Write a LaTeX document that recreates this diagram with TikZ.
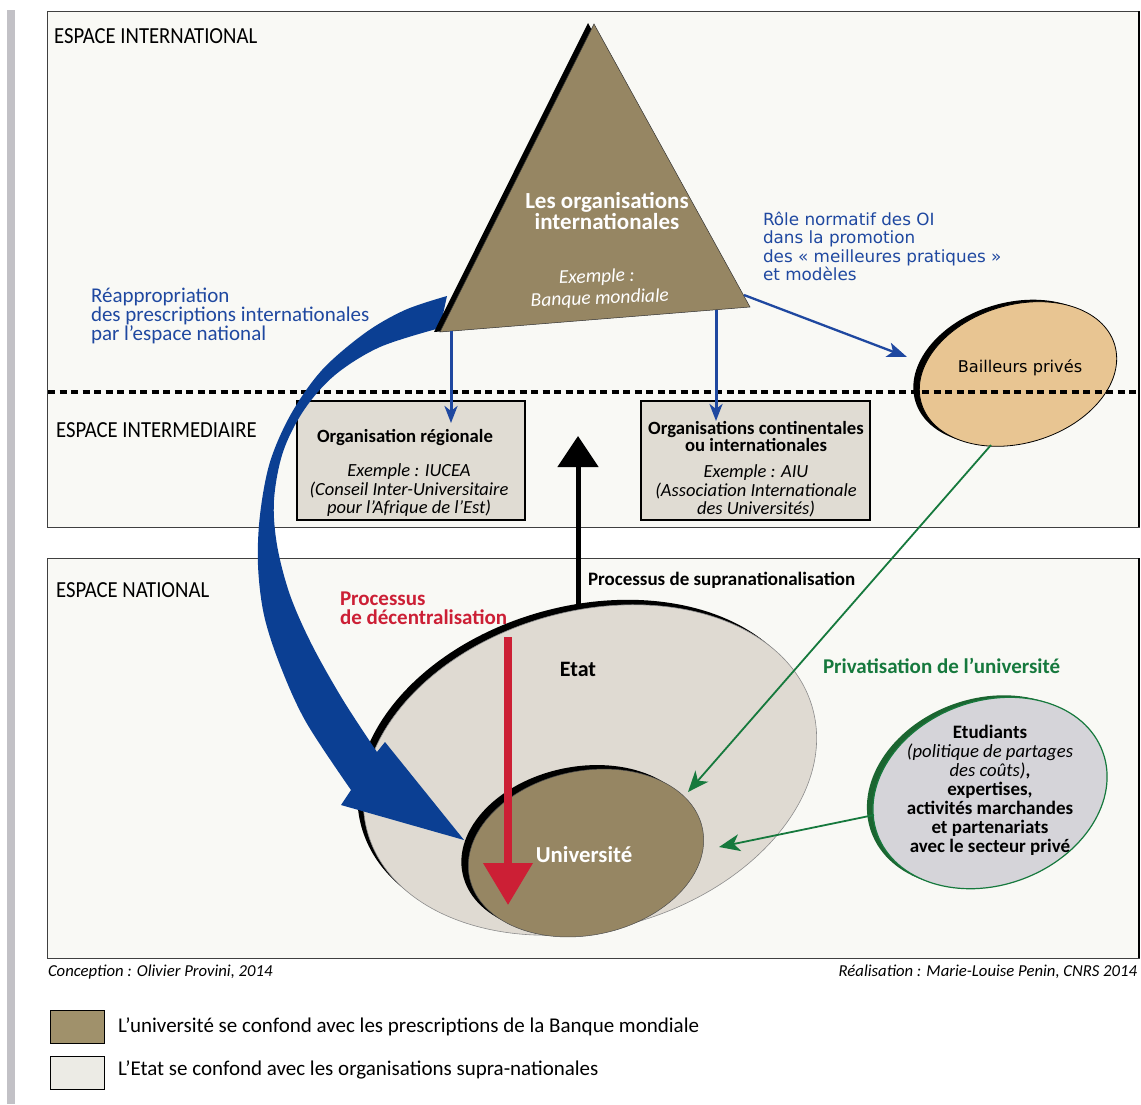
\documentclass[tikz,border=0pt]{standalone}
\usepackage{fontspec}
\setmainfont{Carlito}
\newfontfamily\dvsans{DejaVu Sans}
\usetikzlibrary{arrows.meta}
\definecolor{cOlive}{HTML}{968663}
\definecolor{cEtat}{HTML}{DFDAD2}
\definecolor{cBox}{HTML}{E0DCD3}
\definecolor{cBail}{HTML}{E8C592}
\definecolor{cEtu}{HTML}{D5D4D9}
\definecolor{cBg}{HTML}{F9F9F5}
\definecolor{cBar}{HTML}{C2C1C6}
\definecolor{cBlue}{HTML}{0B3F93}
\definecolor{cBlueT}{HTML}{1F48A0}
\definecolor{cRed}{HTML}{CC1F35}
\definecolor{cGreen}{HTML}{16793D}
\definecolor{cDkGreen}{HTML}{1B6530}
\definecolor{cLeg1}{HTML}{A0916B}
\definecolor{cLeg2}{HTML}{ECEBE5}
\begin{document}
\begin{tikzpicture}[x=1pt,y=-1pt,
  bl/.style={inner sep=0pt, outer sep=0pt, anchor=base west},
  bc/.style={inner sep=0pt, outer sep=0pt, anchor=base},
  br/.style={inner sep=0pt, outer sep=0pt, anchor=base east},
  spacelbl/.style={inner sep=0pt, anchor=west, font=\fontsize{23}{23}\selectfont},
  bluetxt/.style={bl, text=cBlueT, font=\fontsize{21}{21}\selectfont},
  normtxt/.style={bl, text=cBlueT, font=\dvsans\fontsize{16.8}{16.8}\selectfont},
  boldtxt/.style={font=\bfseries\fontsize{18.7}{18.7}\selectfont},
  itxt/.style={font=\itshape\fontsize{18.5}{18.5}\selectfont},
  etutxt/.style={font=\bfseries\fontsize{19}{19}\selectfont},
  etuitxt/.style={font=\itshape\fontsize{18.7}{18.7}\selectfont},
  panel/.style={fill=cBg, draw=black!75, line width=0.8pt},
  orgbox/.style={fill=cBox, draw=black, line width=2pt, inner sep=0pt},
  bluearr/.style={cBlueT, line width=3pt, -{Stealth[length=17pt,width=13pt,inset=5pt]}},
  greenarr/.style={cGreen, line width=1.8pt, -{Stealth[length=21pt,width=17pt,inset=6pt]}},
  legbox/.style={draw=black, line width=1pt, inner sep=0pt, minimum width=54pt, minimum height=33pt},
  legtxt/.style={bl, font=\fontsize{21}{21}\selectfont},
  foottxt/.style={font=\itshape\fontsize{16.7}{16.7}\selectfont}
]
\useasboundingbox (0,0) rectangle (1141,1104);
\fill[white] (0,0) rectangle (1141,1104);
% left bar
\fill[cBar] (7,10) rectangle (15,1104);
% panels
\node[panel, minimum width=1092pt, minimum height=516pt, inner sep=0pt] (ptop) at (593,269) {};
\node[panel, minimum width=1092pt, minimum height=400pt, inner sep=0pt] (pnat) at (593,758) {};
\draw[line width=2.5pt] (1139,11) -- (1139,527);
\draw[line width=2.5pt] (1139,558) -- (1139,958);

% Etat
\fill[black, rotate around={15.5:(584,765)}] (584,765) ellipse [x radius=231pt, y radius=159pt];
\filldraw[fill=cEtat, draw=black!45, line width=0.6pt, rotate around={15.5:(590,770)}] (590,770) ellipse [x radius=231pt, y radius=159pt];
% Universite
\fill[black, rotate around={12:(579,849)}] (579,849) ellipse [x radius=119pt, y radius=82pt];
\filldraw[fill=cOlive, draw=black!70, line width=0.5pt, rotate around={12:(586,853)}] (586,853) ellipse [x radius=119pt, y radius=82pt];
% Bailleurs
\fill[black, rotate around={17:(1012,372)}] (1012,372) ellipse [x radius=101pt, y radius=69pt];
\filldraw[fill=cBail, draw=black, line width=0.8pt, rotate around={17:(1018,374)}] (1018,374) ellipse [x radius=101pt, y radius=69pt];
% Etudiants
\fill[cDkGreen, rotate around={20:(984,791)}] (984,791) ellipse [x radius=120pt, y radius=92pt];
\filldraw[fill=cEtu, draw=cGreen, line width=1.2pt, rotate around={20:(990,793)}] (990,793) ellipse [x radius=120pt, y radius=92pt];

% dotted separator
\draw[line width=3.3pt, dash pattern=on 7pt off 4.5pt] (48,392) -- (1139,392);

% organisation boxes
\node[orgbox, minimum width=228pt, minimum height=119pt] (oreg) at (411,460.5) {};
\node[orgbox, minimum width=229pt, minimum height=119pt] (ocont) at (755.5,460.5) {};

% blue curved arrow
\fill[cBlue] plot[smooth, tension=0.55] coordinates {(447,296) (405,310) (365,333) (322,370) (291,414) (270,462) (260,515) (258,565) (264,615) (280,665) (306,722) (351,790)}
  -- (341,805) -- (464,840) -- (385,742) --
  plot[smooth, tension=0.55] coordinates {(377,752) (343,700) (312,645) (290,595) (277,545) (274,500) (283,452) (304,410) (335,375) (380,347) (440,328)} -- cycle;

% triangle
\fill[black] (588,23) -- (434,332) -- (744,307) -- cycle;
\filldraw[fill=cOlive, draw=black!80, line width=0.5pt] (594,24) -- (440,332) -- (750,307) -- cycle;
\coordinate (triA) at (451,331);
\coordinate (triB) at (716,309.5);
\coordinate (triC) at (744,295);

% arrows
\coordinate (oregIn) at (451,423);
\coordinate (ocontIn) at (716,421);
\draw[bluearr] (triA) -- (oregIn);
\draw[bluearr] (triB) -- (ocontIn);
\coordinate (bailIn) at (907,357);
\draw[cBlueT, line width=2.3pt, -{Stealth[length=20pt,width=15pt,inset=5pt]}] (triC) -- (bailIn);

\coordinate (etatTop) at (578,607);
\coordinate (supraTip) at (578,436);
\draw[black, line width=5pt, -{Triangle[length=31pt,width=40pt]}] (etatTop) -- (supraTip);

\coordinate (decTop) at (508,637);
\coordinate (decTip) at (508,905);
\draw[cRed, line width=7.5pt, -{Triangle[length=42pt,width=48pt]}] (decTop) -- (decTip);

\coordinate (bailBot) at (991,445);
\coordinate (univA) at (688,792);
\draw[greenarr] (bailBot) -- (univA);
\coordinate (etuLeft) at (874,815);
\coordinate (univB) at (719,847);
\draw[greenarr] (etuLeft) -- (univB);

% space labels
\node[spacelbl] (lintl) at (54,36) {\scalebox{0.9}[1]{ESPACE INTERNATIONAL}};
\node[spacelbl] (linter) at (56,430) {\scalebox{0.9}[1]{ESPACE INTERMEDIAIRE}};
\node[spacelbl] (lnat) at (56,590) {\scalebox{0.9}[1]{ESPACE NATIONAL}};

% blue texts
\node[bluetxt] (r1) at (91,302.3) {Réappropriation};
\node[bluetxt] (r2) at (91,321.3) {des prescriptions internationales};
\node[bluetxt] (r3) at (91,340.3) {par l’espace national};
\node[normtxt] (n1) at (763,225) {Rôle normatif des OI};
\node[normtxt] (n2) at (763,243.5) {dans la promotion};
\node[normtxt] (n3) at (763,262) {des «~meilleures pratiques~»};
\node[normtxt] (n4) at (763,280.5) {et modèles};

% triangle texts
\node[bc, text=white, font=\bfseries\fontsize{23}{23}\selectfont] (t1) at (607,208) {Les organisations};
\node[bc, text=white, font=\bfseries\fontsize{23}{23}\selectfont] (t2) at (607,229) {internationales};
\node[bc, rotate=2, text=white, font=\itshape\fontsize{19.5}{19.5}\selectfont] (t3) at (597,282.5) {Exemple :};
\node[bc, rotate=2, text=white, font=\itshape\fontsize{19.5}{19.5}\selectfont] (t4) at (600,304) {Banque mondiale};

% box texts
\node[bc, boldtxt] (o1) at (405,442.6) {Organisation régionale};
\node[bc, itxt] (o2) at (409,476.6) {Exemple : IUCEA};
\node[bc, itxt] (o3) at (409,495.6) {(Conseil Inter-Universitaire};
\node[bc, itxt] (o4) at (409,513.6) {pour l’Afrique de l’Est)};
\node[bc, boldtxt] (c1) at (756,434.6) {Organisations continentales};
\node[bc, boldtxt] (c2) at (756,451.6) {ou internationales};
\node[bc, itxt] (c3) at (756,477.6) {Exemple : AIU};
\node[bc, itxt] (c4) at (756,496.6) {(Association Internationale};
\node[bc, itxt] (c5) at (756,514.6) {des Universités)};

\node[bc, font=\dvsans\fontsize{16.2}{16.2}\selectfont] (bail) at (1020,372) {Bailleurs privés};

% national texts
\node[bl, font=\bfseries\fontsize{19}{19}\selectfont] (supra) at (588,585.7) {Processus de supranationalisation};
\node[bl, text=cRed, font=\bfseries\fontsize{21}{21}\selectfont] (d1) at (340,605.3) {Processus};
\node[bl, text=cRed, font=\bfseries\fontsize{21}{21}\selectfont] (d2) at (340,624.3) {de décentralisation};
\node[bc, font=\bfseries\fontsize{22}{22}\selectfont] (etat) at (578,676.6) {Etat};
\node[bc, text=white, font=\bfseries\fontsize{22.8}{22.8}\selectfont] (univ) at (584,862.8) {Université};
\node[bl, text=cGreen, font=\bfseries\fontsize{21}{21}\selectfont] (priv) at (823,673.3) {Privatisation de l’université};

\node[bc, etutxt] (e1) at (990,738.5) {Etudiants};
\node[bc, etuitxt] (e2) at (990,757.5) {(politique de partages};
\node[bc, etuitxt] (e3) at (990,776.5) {des coûts)\textbf{\upshape ,}};
\node[bc, etutxt] (e4) at (990,795.5) {expertises,};
\node[bc, etutxt] (e5) at (990,814.5) {activités marchandes};
\node[bc, etutxt] (e6) at (990,833.5) {et partenariats};
\node[bc, etutxt] (e7) at (990,852.5) {avec le secteur privé};

% footer
\node[bl, foottxt] (conc) at (48,976) {Conception : Olivier Provini, 2014};
\node[br, foottxt] (real) at (1137,976) {Réalisation : Marie-Louise Penin, CNRS 2014};

% legend
\node[legbox, fill=cLeg1] (leg1) at (77,1026.5) {};
\node[legtxt] (leg1t) at (118,1032.3) {L’université se confond avec les prescriptions de la Banque mondiale};
\node[legbox, fill=cLeg2] (leg2) at (77,1072.5) {};
\node[legtxt] (leg2t) at (118,1075.3) {L’Etat se confond avec les organisations supra-nationales};
\end{tikzpicture}
\end{document}
